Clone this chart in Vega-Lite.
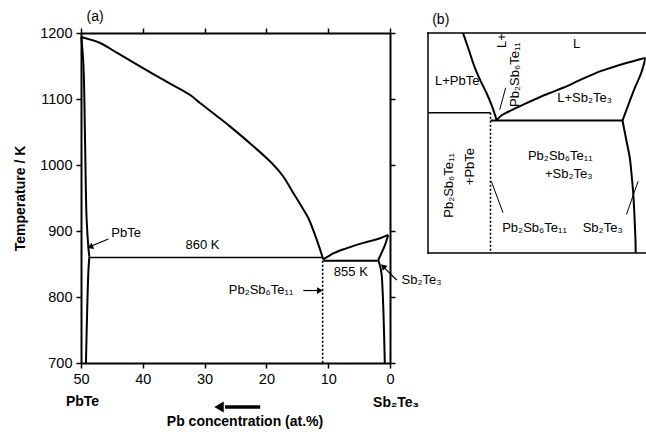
{
  "$schema": "https://vega.github.io/schema/vega-lite/v6.json",
  "background": "white",
  "padding": {"left": 13, "top": 9, "right": 0, "bottom": 0},
  "bounds": "flush",
  "spacing": 38,
  "datasets": {
    "curvesA": [
      {"seg": "liqA", "i": 0, "c": 49.95, "T": 1194},
      {"seg": "liqA", "i": 1, "c": 48.5, "T": 1190},
      {"seg": "liqA", "i": 2, "c": 46.9, "T": 1184.8},
      {"seg": "liqA", "i": 3, "c": 44.0, "T": 1169},
      {"seg": "liqA", "i": 4, "c": 40.45, "T": 1149.4},
      {"seg": "liqA", "i": 5, "c": 36.0, "T": 1125.5},
      {"seg": "liqA", "i": 6, "c": 32.4, "T": 1106.5},
      {"seg": "liqA", "i": 7, "c": 30.74, "T": 1094},
      {"seg": "liqA", "i": 8, "c": 27.5, "T": 1070.5},
      {"seg": "liqA", "i": 9, "c": 25.9, "T": 1058.5},
      {"seg": "liqA", "i": 10, "c": 22.4, "T": 1030.8},
      {"seg": "liqA", "i": 11, "c": 19.14, "T": 1003},
      {"seg": "liqA", "i": 12, "c": 17.3, "T": 983},
      {"seg": "liqA", "i": 13, "c": 15.65, "T": 957.6},
      {"seg": "liqA", "i": 14, "c": 14.4, "T": 938.5},
      {"seg": "liqA", "i": 15, "c": 13.22, "T": 919.7},
      {"seg": "liqA", "i": 16, "c": 11.86, "T": 886.8},
      {"seg": "liqA", "i": 17, "c": 10.8, "T": 857},
      {"seg": "solA1", "i": 0, "c": 49.95, "T": 1194},
      {"seg": "solA1", "i": 1, "c": 49.6, "T": 1150},
      {"seg": "solA1", "i": 2, "c": 49.35, "T": 1040},
      {"seg": "solA1", "i": 3, "c": 49.1, "T": 920},
      {"seg": "solA1", "i": 4, "c": 48.8, "T": 874},
      {"seg": "solA1", "i": 5, "c": 48.65, "T": 861},
      {"seg": "solA2", "i": 0, "c": 48.65, "T": 861},
      {"seg": "solA2", "i": 1, "c": 48.8, "T": 840},
      {"seg": "solA2", "i": 2, "c": 49.0, "T": 780},
      {"seg": "solA2", "i": 3, "c": 49.2, "T": 700},
      {"seg": "liqB", "i": 0, "c": 10.8, "T": 857},
      {"seg": "liqB", "i": 1, "c": 9.9, "T": 862},
      {"seg": "liqB", "i": 2, "c": 9.2, "T": 866},
      {"seg": "liqB", "i": 3, "c": 7.3, "T": 873},
      {"seg": "liqB", "i": 4, "c": 5.4, "T": 879},
      {"seg": "liqB", "i": 5, "c": 3.5, "T": 884},
      {"seg": "liqB", "i": 6, "c": 1.6, "T": 889},
      {"seg": "liqB", "i": 7, "c": 0.3, "T": 894},
      {"seg": "solB", "i": 0, "c": 0.3, "T": 894},
      {"seg": "solB", "i": 1, "c": 0.8, "T": 879},
      {"seg": "solB", "i": 2, "c": 1.4, "T": 866},
      {"seg": "solB", "i": 3, "c": 1.9, "T": 856},
      {"seg": "solvB", "i": 0, "c": 1.9, "T": 856},
      {"seg": "solvB", "i": 1, "c": 1.55, "T": 845},
      {"seg": "solvB", "i": 2, "c": 1.34, "T": 833},
      {"seg": "solvB", "i": 3, "c": 1.2, "T": 810},
      {"seg": "solvB", "i": 4, "c": 1.08, "T": 783},
      {"seg": "solvB", "i": 5, "c": 0.95, "T": 740},
      {"seg": "solvB", "i": 6, "c": 0.84, "T": 700},
      {"seg": "e855", "i": 0, "c": 10.8, "T": 855},
      {"seg": "e855", "i": 1, "c": 1.9, "T": 855}
    ],
    "line860A": [
      {"i": 0, "c": 48.65, "T": 860},
      {"i": 1, "c": 10.8, "T": 860}
    ],
    "dotA": [
      {"i": 0, "c": 10.9, "T": 855},
      {"i": 1, "c": 10.9, "T": 700}
    ],
    "textA": [
      {"t": "PbTe", "c": 42.7, "T": 896.5},
      {"t": "860 K", "c": 30.34, "T": 878.8},
      {"t": "855 K", "c": 6.34, "T": 838.4},
      {"t": "Pb₂Sb₆Te₁₁", "c": 20.87, "T": 810},
      {"t": "Sb₂Te₃", "c": -5.1, "T": 825.8}
    ],
    "labelA": [
      {"t": "(a)", "c": 47.73, "T": 1224.7}
    ],
    "boldA": [
      {"t": "PbTe", "c": 49.76, "T": 640.9},
      {"t": "Sb₂Te₃", "c": -0.97, "T": 639.4},
      {"t": "Pb concentration (at.%)", "c": 23.46, "T": 610.6}
    ],
    "arrowsA": [
      {"c": 45.58, "T": 887.9, "c2": 48.6, "T2": 876.2},
      {"c": 14.03, "T": 809.8, "c2": 11.3, "T2": 809.8},
      {"c": -1.08, "T": 825.8, "c2": 1.2, "T2": 846.8}
    ],
    "headPbTe": [{"c": 48.37, "T": 876.3}],
    "headPb": [{"c": 11.49, "T": 809.8}],
    "headSb": [{"c": 1.0, "T": 845.3}],
    "bigArrow": [{"c": 26.7, "T": 633.3, "c2": 21.0, "T2": 633.3}],
    "bigHead": [{"c": 27.67, "T": 633.3}],
    "curvesB": [
      {"seg": "liqP", "i": 0, "u": 15.9, "v": 100},
      {"seg": "liqP", "i": 1, "u": 18.5, "v": 92.5},
      {"seg": "liqP", "i": 2, "u": 21.2, "v": 84.5},
      {"seg": "liqP", "i": 3, "u": 24.0, "v": 78},
      {"seg": "liqP", "i": 4, "u": 26.7, "v": 72.5},
      {"seg": "liqP", "i": 5, "u": 29.0, "v": 67},
      {"seg": "liqP", "i": 6, "u": 31.2, "v": 60.4},
      {"seg": "liqS", "i": 0, "u": 31.2, "v": 60.4},
      {"seg": "liqS", "i": 1, "u": 33.5, "v": 62.6},
      {"seg": "liqS", "i": 2, "u": 36.5, "v": 64.2},
      {"seg": "liqS", "i": 3, "u": 39.4, "v": 65.6},
      {"seg": "liqS", "i": 4, "u": 44.0, "v": 67.8},
      {"seg": "liqS", "i": 5, "u": 48.5, "v": 69.8},
      {"seg": "liqS", "i": 6, "u": 55.0, "v": 72.6},
      {"seg": "liqS", "i": 7, "u": 61.4, "v": 75.1},
      {"seg": "liqS", "i": 8, "u": 69.0, "v": 78.6},
      {"seg": "liqS", "i": 9, "u": 76.5, "v": 81.9},
      {"seg": "liqS", "i": 10, "u": 82.5, "v": 84.0},
      {"seg": "liqS", "i": 11, "u": 88.6, "v": 85.9},
      {"seg": "liqS", "i": 12, "u": 94.0, "v": 87.4},
      {"seg": "liqS", "i": 13, "u": 98.9, "v": 88.7},
      {"seg": "solS", "i": 0, "u": 98.9, "v": 88.7},
      {"seg": "solS", "i": 1, "u": 96.8, "v": 81.5},
      {"seg": "solS", "i": 2, "u": 94.0, "v": 75.1},
      {"seg": "solS", "i": 3, "u": 91.5, "v": 68.5},
      {"seg": "solS", "i": 4, "u": 89.4, "v": 62.9},
      {"seg": "solS", "i": 5, "u": 88.4, "v": 60.2},
      {"seg": "solvS", "i": 0, "u": 88.4, "v": 60.2},
      {"seg": "solvS", "i": 1, "u": 90.2, "v": 51},
      {"seg": "solvS", "i": 2, "u": 91.7, "v": 43.3},
      {"seg": "solvS", "i": 3, "u": 92.6, "v": 35},
      {"seg": "solvS", "i": 4, "u": 93.2, "v": 28.1},
      {"seg": "solvS", "i": 5, "u": 93.7, "v": 20},
      {"seg": "solvS", "i": 6, "u": 94.0, "v": 13.0},
      {"seg": "solvS", "i": 7, "u": 94.3, "v": 6},
      {"seg": "solvS", "i": 8, "u": 94.4, "v": 0},
      {"seg": "e855", "i": 0, "u": 28.4, "v": 60.2},
      {"seg": "e855", "i": 1, "u": 88.4, "v": 60.2}
    ],
    "thinB": [
      {"i": 0, "u": 0, "v": 63.7},
      {"i": 1, "u": 28.4, "v": 63.7}
    ],
    "dotB": [
      {"i": 0, "u": 28.4, "v": 63.7},
      {"i": 1, "u": 28.4, "v": 0}
    ],
    "leadersB": [
      {"u": 35.3, "v": 75.1, "u2": 32.6, "v2": 65.2},
      {"u": 28.8, "v": 32.6, "u2": 34.1, "v2": 18.3},
      {"u": 90.2, "v": 17.5, "u2": 95.5, "v2": 32.6}
    ],
    "boxB": [
      {"u": 0, "v": 0, "u2": 98.95, "v2": 0},
      {"u": 0, "v": 100, "u2": 98.95, "v2": 100},
      {"u": 0, "v": 0, "u2": 0, "v2": 100}
    ],
    "textB": [
      {"t": "L", "u": 67.5, "v": 94.8},
      {"t": "L+PbTe", "u": 13.3, "v": 78.1},
      {"t": "L+Sb₂Te₃", "u": 71.2, "v": 70.5},
      {"t": "Pb₂Sb₆Te₁₁", "u": 60.1, "v": 43.9},
      {"t": "+Sb₂Te₃", "u": 64.0, "v": 35.7},
      {"t": "Pb₂Sb₆Te₁₁", "u": 48.4, "v": 11.5},
      {"t": "Sb₂Te₃", "u": 79.4, "v": 11.5}
    ],
    "labelB": [
      {"t": "(b)", "u": 5.8, "v": 106.1}
    ],
    "rotB": [
      {"t": "L+", "u": 33.5, "v": 96.6},
      {"t": "Pb₂Sb₆Te₁₁", "u": 39.4, "v": 81.1},
      {"t": "Pb₂Sb₆Te₁₁", "u": 9.4, "v": 30.7},
      {"t": "+PbTe", "u": 19.0, "v": 39.3}
    ]
  },
  "hconcat": [
    {
      "width": 309,
      "height": 330,
      "resolve": {"axis": {"x": "independent", "y": "independent"}},
      "layer": [
        {
          "data": {"name": "curvesA"},
          "mark": {"type": "line", "color": "black", "strokeWidth": 2, "strokeJoin": "round", "interpolate": "catmull-rom"},
          "encoding": {
            "x": {"field": "c", "type": "quantitative",
              "scale": {"domain": [0, 50], "reverse": true, "nice": false, "zero": false},
              "axis": {"orient": "bottom", "values": [0, 10, 20, 30, 40, 50], "format": "d", "title": null, "labelPadding": 4, "labelFlush": false}},
            "y": {"field": "T", "type": "quantitative",
              "scale": {"domain": [700, 1200], "nice": false, "zero": false},
              "axis": {"orient": "left", "values": [700, 800, 900, 1000, 1100, 1200], "format": "d", "title": "Temperature / K", "titleFontWeight": "bold", "titleFontSize": 14, "titlePadding": 12, "labelPadding": 4, "labelFlush": false}},
            "detail": {"field": "seg"},
            "order": {"field": "i"}
          }
        },
        {
          "data": {"name": "line860A"},
          "mark": {"type": "line", "color": "black", "strokeWidth": 1.5},
          "encoding": {
            "x": {"field": "c", "type": "quantitative", "axis": null},
            "y": {"field": "T", "type": "quantitative", "axis": null},
            "order": {"field": "i"}
          }
        },
        {
          "data": {"name": "dotA"},
          "mark": {"type": "line", "color": "black", "strokeWidth": 1.6, "strokeDash": [2, 2]},
          "encoding": {
            "x": {"field": "c", "type": "quantitative",
              "axis": {"orient": "top", "values": [0, 10, 20, 30, 40, 50], "labels": false, "title": null}},
            "y": {"field": "T", "type": "quantitative",
              "axis": {"orient": "right", "values": [700, 800, 900, 1000, 1100, 1200], "labels": false, "title": null}},
            "order": {"field": "i"}
          }
        },
        {
          "data": {"name": "arrowsA"},
          "mark": {"type": "rule", "color": "black", "strokeWidth": 1.2},
          "encoding": {
            "x": {"field": "c", "type": "quantitative", "axis": null},
            "y": {"field": "T", "type": "quantitative", "axis": null},
            "x2": {"field": "c2"},
            "y2": {"field": "T2"}
          }
        },
        {
          "data": {"name": "headPbTe"},
          "mark": {"type": "point", "shape": "triangle", "filled": true, "color": "black", "opacity": 1, "size": 45, "angle": 247.5},
          "encoding": {
            "x": {"field": "c", "type": "quantitative", "axis": null},
            "y": {"field": "T", "type": "quantitative", "axis": null}
          }
        },
        {
          "data": {"name": "headPb"},
          "mark": {"type": "point", "shape": "triangle", "filled": true, "color": "black", "opacity": 1, "size": 45, "angle": 90},
          "encoding": {
            "x": {"field": "c", "type": "quantitative", "axis": null},
            "y": {"field": "T", "type": "quantitative", "axis": null}
          }
        },
        {
          "data": {"name": "headSb"},
          "mark": {"type": "point", "shape": "triangle", "filled": true, "color": "black", "opacity": 1, "size": 45, "angle": 315},
          "encoding": {
            "x": {"field": "c", "type": "quantitative", "axis": null},
            "y": {"field": "T", "type": "quantitative", "axis": null}
          }
        },
        {
          "data": {"name": "bigArrow"},
          "mark": {"type": "rule", "color": "black", "strokeWidth": 3.5},
          "encoding": {
            "x": {"field": "c", "type": "quantitative", "axis": null},
            "y": {"field": "T", "type": "quantitative", "axis": null},
            "x2": {"field": "c2"},
            "y2": {"field": "T2"}
          }
        },
        {
          "data": {"name": "bigHead"},
          "mark": {"type": "point", "shape": "triangle-left", "filled": true, "color": "black", "opacity": 1, "size": 120},
          "encoding": {
            "x": {"field": "c", "type": "quantitative", "axis": null},
            "y": {"field": "T", "type": "quantitative", "axis": null}
          }
        },
        {
          "data": {"name": "textA"},
          "mark": {"type": "text", "fontSize": 13, "color": "black", "align": "center", "baseline": "middle"},
          "encoding": {
            "x": {"field": "c", "type": "quantitative", "axis": null},
            "y": {"field": "T", "type": "quantitative", "axis": null},
            "text": {"field": "t"}
          }
        },
        {
          "data": {"name": "labelA"},
          "mark": {"type": "text", "fontSize": 14, "color": "black", "align": "center", "baseline": "middle"},
          "encoding": {
            "x": {"field": "c", "type": "quantitative", "axis": null},
            "y": {"field": "T", "type": "quantitative", "axis": null},
            "text": {"field": "t"}
          }
        },
        {
          "data": {"name": "boldA"},
          "mark": {"type": "text", "fontSize": 14, "fontWeight": "bold", "color": "black", "align": "center", "baseline": "middle"},
          "encoding": {
            "x": {"field": "c", "type": "quantitative", "axis": null},
            "y": {"field": "T", "type": "quantitative", "axis": null},
            "text": {"field": "t"}
          }
        }
      ]
    },
    {
      "width": 217.7,
      "height": 220,
      "layer": [
        {
          "data": {"name": "boxB"},
          "mark": {"type": "rule", "color": "black", "strokeWidth": 1.5, "strokeCap": "square"},
          "encoding": {
            "x": {"field": "u", "type": "quantitative", "scale": {"domain": [0, 98.95], "nice": false, "zero": false}, "axis": null},
            "y": {"field": "v", "type": "quantitative", "scale": {"domain": [0, 100], "nice": false, "zero": false}, "axis": null},
            "x2": {"field": "u2"},
            "y2": {"field": "v2"}
          }
        },
        {
          "data": {"name": "curvesB"},
          "mark": {"type": "line", "color": "black", "strokeWidth": 2, "strokeJoin": "round", "clip": true, "interpolate": "catmull-rom"},
          "encoding": {
            "x": {"field": "u", "type": "quantitative", "axis": null},
            "y": {"field": "v", "type": "quantitative", "axis": null},
            "detail": {"field": "seg"},
            "order": {"field": "i"}
          }
        },
        {
          "data": {"name": "thinB"},
          "mark": {"type": "line", "color": "black", "strokeWidth": 1.5},
          "encoding": {
            "x": {"field": "u", "type": "quantitative", "axis": null},
            "y": {"field": "v", "type": "quantitative", "axis": null},
            "order": {"field": "i"}
          }
        },
        {
          "data": {"name": "dotB"},
          "mark": {"type": "line", "color": "black", "strokeWidth": 1.6, "strokeDash": [2, 2]},
          "encoding": {
            "x": {"field": "u", "type": "quantitative", "axis": null},
            "y": {"field": "v", "type": "quantitative", "axis": null},
            "order": {"field": "i"}
          }
        },
        {
          "data": {"name": "leadersB"},
          "mark": {"type": "rule", "color": "black", "strokeWidth": 1},
          "encoding": {
            "x": {"field": "u", "type": "quantitative", "axis": null},
            "y": {"field": "v", "type": "quantitative", "axis": null},
            "x2": {"field": "u2"},
            "y2": {"field": "v2"}
          }
        },
        {
          "data": {"name": "textB"},
          "mark": {"type": "text", "fontSize": 13, "color": "black", "align": "center", "baseline": "middle"},
          "encoding": {
            "x": {"field": "u", "type": "quantitative", "axis": null},
            "y": {"field": "v", "type": "quantitative", "axis": null},
            "text": {"field": "t"}
          }
        },
        {
          "data": {"name": "labelB"},
          "mark": {"type": "text", "fontSize": 14, "color": "black", "align": "center", "baseline": "middle"},
          "encoding": {
            "x": {"field": "u", "type": "quantitative", "axis": null},
            "y": {"field": "v", "type": "quantitative", "axis": null},
            "text": {"field": "t"}
          }
        },
        {
          "data": {"name": "rotB"},
          "mark": {"type": "text", "fontSize": 13, "color": "black", "align": "center", "baseline": "middle", "angle": 270},
          "encoding": {
            "x": {"field": "u", "type": "quantitative", "axis": null},
            "y": {"field": "v", "type": "quantitative", "axis": null},
            "text": {"field": "t"}
          }
        }
      ]
    }
  ],
  "config": {
    "font": "Liberation Sans",
    "view": {"stroke": null},
    "axis": {
      "grid": false,
      "domainColor": "black",
      "domainWidth": 2,
      "tickColor": "black",
      "tickWidth": 1.5,
      "tickSize": 5,
      "labelColor": "black",
      "labelFont": "Liberation Sans",
      "labelFontSize": 14.5,
      "titleColor": "black",
      "titleFont": "Liberation Sans",
      "labelOverlap": false
    },
    "text": {"font": "Liberation Sans"}
  }
}
